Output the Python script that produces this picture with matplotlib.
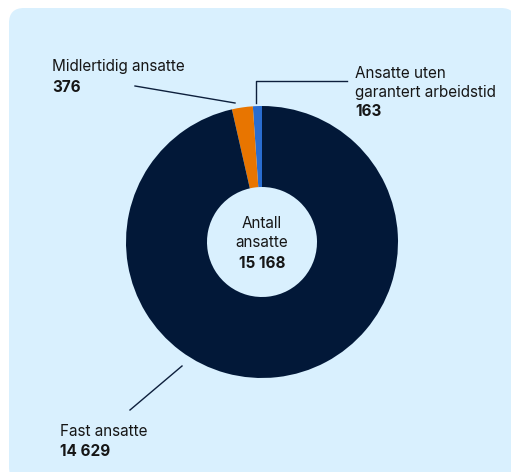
import matplotlib.pyplot as plt
from matplotlib.patches import FancyBboxPatch

# data
labels = ["Ansatte uten\ngarantert arbeidstid", "Midlertidig ansatte", "Fast ansatte"]
values = [163, 376, 14629]
value_text = ["163", "376", "14 629"]
colors = ["#2A6DD0", "#E87500", "#021838"]
total_text = "15 168"

W, H = 511, 472
plt.rcParams['font.family'] = ['Inter', 'DejaVu Sans']

fig = plt.figure(figsize=(W / 100, H / 100), dpi=100)
ax = fig.add_axes([0, 0, 1, 1])

def Y(py):
    # pixel row -> data y
    return H - py

# background panel (cropped at right and bottom)
panel = FancyBboxPatch((9, Y(482)), 507, 474, boxstyle="round,pad=0,rounding_size=15",
                       fc="#D9F0FE", ec="none", zorder=0)
ax.add_patch(panel)

cx, cy, r = 262, Y(242), 136
ax.pie(values, colors=colors, startangle=90, counterclock=True, center=(cx, cy),
       radius=r, wedgeprops=dict(width=r - 55, linewidth=0), frame=True)
ax.set_xlim(0, W)
ax.set_ylim(0, H)
ax.set_aspect('equal')
ax.axis('off')

txt = "#161616"
lc = "#0d1f3c"
fs = 11

# centre label
ax.text(cx, Y(233), "Antall\nansatte", ha='center', va='center', fontsize=fs, color=txt,
        linespacing=1.3)
ax.text(cx, Y(263), total_text, ha='center', va='center', fontsize=fs, color=txt,
        fontweight='bold')

# Ansatte uten garantert arbeidstid
ax.plot([256, 256, 347], [Y(103), Y(81), Y(81)], color=lc, lw=1)
ax.text(355, Y(83), labels[0], ha='left', va='center', fontsize=fs, color=txt,
        linespacing=1.25)
ax.text(355, Y(112), value_text[0], ha='left', va='center', fontsize=fs, color=txt,
        fontweight='bold')

# Midlertidig ansatte
ax.plot([135, 235], [Y(86), Y(103)], color=lc, lw=1)
ax.text(52, Y(67), labels[1], ha='left', va='center', fontsize=fs, color=txt)
ax.text(52, Y(87), value_text[1], ha='left', va='center', fontsize=fs, color=txt,
        fontweight='bold')

# Fast ansatte
ax.plot([130, 182], [Y(410), Y(366)], color=lc, lw=1)
ax.text(60, Y(432), labels[2], ha='left', va='center', fontsize=fs, color=txt)
ax.text(60, Y(452), value_text[2], ha='left', va='center', fontsize=fs, color=txt,
        fontweight='bold')

fig.savefig("out.png", dpi=100, facecolor="white")
